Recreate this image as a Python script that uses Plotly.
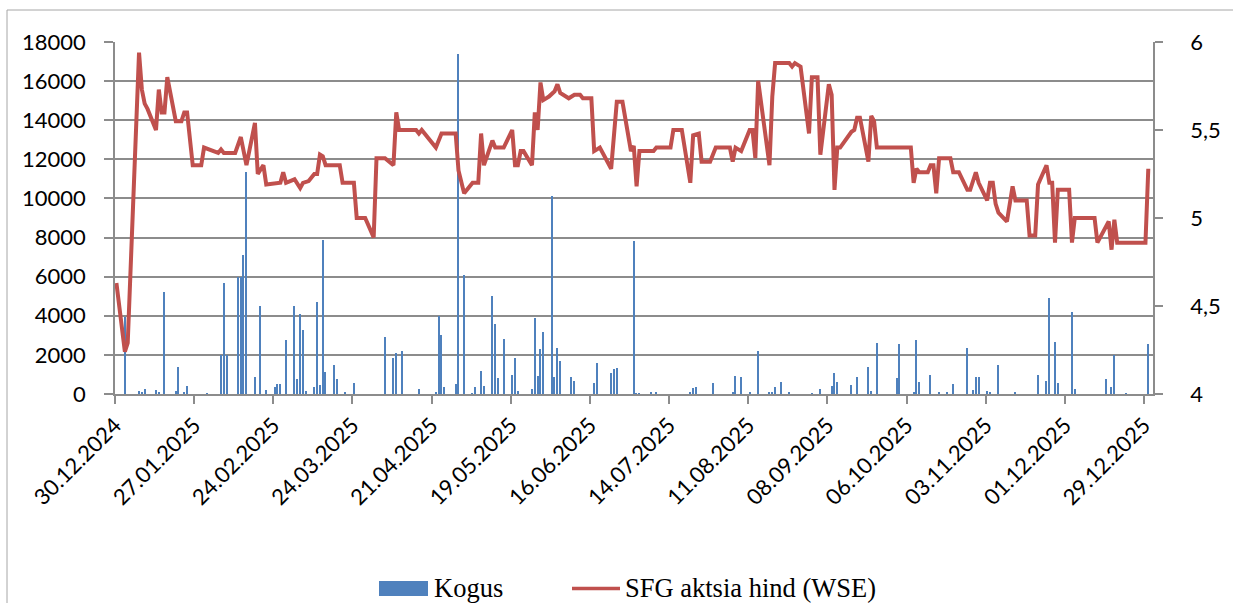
import plotly.graph_objects as go

DAY_MS = 86400000

# ---- Data ----
vol_dates = [
    "2025-01-02", "2025-01-07", "2025-01-08", "2025-01-09", "2025-01-13", "2025-01-14", "2025-01-16",
    "2025-01-20", "2025-01-21", "2025-01-23", "2025-01-24", "2025-01-31", "2025-02-05", "2025-02-06",
    "2025-02-07", "2025-02-11", "2025-02-12", "2025-02-13", "2025-02-14", "2025-02-17", "2025-02-19",
    "2025-02-21", "2025-02-24", "2025-02-25", "2025-02-26", "2025-02-28", "2025-03-03", "2025-03-04",
    "2025-03-05", "2025-03-06", "2025-03-07", "2025-03-10", "2025-03-11", "2025-03-12", "2025-03-13",
    "2025-03-14", "2025-03-17", "2025-03-18", "2025-03-21", "2025-03-24", "2025-04-04", "2025-04-07",
    "2025-04-08", "2025-04-10", "2025-04-16", "2025-04-22", "2025-04-23", "2025-04-24", "2025-04-25",
    "2025-04-29", "2025-04-30", "2025-05-02", "2025-05-05", "2025-05-06", "2025-05-08", "2025-05-09",
    "2025-05-12", "2025-05-13", "2025-05-14", "2025-05-16", "2025-05-19", "2025-05-20", "2025-05-21",
    "2025-05-26", "2025-05-27", "2025-05-28", "2025-05-29", "2025-05-30", "2025-06-02", "2025-06-03",
    "2025-06-04", "2025-06-05", "2025-06-09", "2025-06-10", "2025-06-17", "2025-06-18", "2025-06-23",
    "2025-06-24", "2025-06-25", "2025-07-01", "2025-07-02", "2025-07-03", "2025-07-07", "2025-07-09",
    "2025-07-21", "2025-07-22", "2025-07-23", "2025-07-29", "2025-08-05", "2025-08-06", "2025-08-08",
    "2025-08-11", "2025-08-14", "2025-08-18", "2025-08-19", "2025-08-20", "2025-08-22", "2025-08-25",
    "2025-09-02", "2025-09-05", "2025-09-09", "2025-09-10", "2025-09-11", "2025-09-16", "2025-09-18",
    "2025-09-22", "2025-09-23", "2025-09-25", "2025-10-02", "2025-10-03", "2025-10-08", "2025-10-09",
    "2025-10-10", "2025-10-14", "2025-10-17", "2025-10-20", "2025-10-22", "2025-10-27", "2025-10-29",
    "2025-10-30", "2025-10-31", "2025-11-03", "2025-11-04", "2025-11-07", "2025-11-13", "2025-11-21",
    "2025-11-24", "2025-11-25", "2025-11-27", "2025-11-28", "2025-12-03", "2025-12-04", "2025-12-15",
    "2025-12-17", "2025-12-18", "2025-12-22", "2025-12-30",
]
vol_values = [
    3920, 150, 100, 250, 200, 80, 5200,
    150, 1400, 100, 400, 50, 2000, 5660,
    2000, 5970, 5970, 7110, 11370, 850, 4500,
    200, 340, 510, 510, 2760, 4500, 750,
    4090, 3270, 150, 340, 4720, 460, 7880,
    1140, 1480, 770, 100, 550, 2930, 1820,
    2080, 2200, 250, 100, 3990, 3020, 340,
    510, 17390, 6090, 50, 340, 1190, 400,
    5030, 3560, 800, 2800, 970, 1860, 150,
    250, 3870, 940, 2280, 3150, 10130, 850,
    2370, 1690, 850, 680, 550, 1570, 1060,
    1260, 1350, 7840, 40, 40, 60, 60,
    100, 300, 340, 550, 60, 940, 890,
    60, 2200, 60, 60, 340, 600, 100,
    50, 250, 400, 1060, 630, 460, 850,
    1360, 150, 2590, 830, 2560, 100, 2760,
    630, 970, 100, 80, 510, 2340, 200,
    850, 850, 150, 100, 1480, 100, 970,
    660, 4930, 2680, 550, 4180, 250, 770,
    340, 1990, 40, 2560,
]

price_dates = [
    "2024-12-30", "2025-01-02", "2025-01-03", "2025-01-07", "2025-01-08", "2025-01-09", "2025-01-10",
    "2025-01-13", "2025-01-14", "2025-01-15", "2025-01-16", "2025-01-17", "2025-01-20", "2025-01-22",
    "2025-01-23", "2025-01-24", "2025-01-26", "2025-01-29", "2025-01-30", "2025-02-04", "2025-02-05",
    "2025-02-06", "2025-02-10", "2025-02-12", "2025-02-14", "2025-02-17", "2025-02-18", "2025-02-20",
    "2025-02-21", "2025-02-26", "2025-02-27", "2025-02-28", "2025-03-03", "2025-03-05", "2025-03-06",
    "2025-03-08", "2025-03-10", "2025-03-11", "2025-03-12", "2025-03-13", "2025-03-14", "2025-03-19",
    "2025-03-20", "2025-03-24", "2025-03-25", "2025-03-28", "2025-03-31", "2025-04-01", "2025-04-04",
    "2025-04-07", "2025-04-08", "2025-04-09", "2025-04-15", "2025-04-16", "2025-04-17", "2025-04-22",
    "2025-04-24", "2025-04-29", "2025-04-30", "2025-05-02", "2025-05-05", "2025-05-07", "2025-05-08",
    "2025-05-09", "2025-05-12", "2025-05-13", "2025-05-16", "2025-05-19", "2025-05-20", "2025-05-21",
    "2025-05-22", "2025-05-23", "2025-05-26", "2025-05-27", "2025-05-28", "2025-05-29", "2025-05-30",
    "2025-06-01", "2025-06-03", "2025-06-04", "2025-06-05", "2025-06-08", "2025-06-10", "2025-06-12",
    "2025-06-13", "2025-06-16", "2025-06-17", "2025-06-19", "2025-06-23", "2025-06-25", "2025-06-27",
    "2025-06-30", "2025-07-01", "2025-07-02", "2025-07-03", "2025-07-08", "2025-07-09", "2025-07-14",
    "2025-07-15", "2025-07-18", "2025-07-21", "2025-07-22", "2025-07-24", "2025-07-25", "2025-07-28",
    "2025-07-30", "2025-08-04", "2025-08-05", "2025-08-06", "2025-08-08", "2025-08-11", "2025-08-12",
    "2025-08-13", "2025-08-14", "2025-08-18", "2025-08-19", "2025-08-20", "2025-08-25", "2025-08-26",
    "2025-08-27", "2025-08-28", "2025-08-29", "2025-09-01", "2025-09-02", "2025-09-04", "2025-09-05",
    "2025-09-08", "2025-09-09", "2025-09-10", "2025-09-11", "2025-09-12", "2025-09-16", "2025-09-17",
    "2025-09-18", "2025-09-19", "2025-09-22", "2025-09-23", "2025-09-24", "2025-09-25", "2025-10-07",
    "2025-10-08", "2025-10-09", "2025-10-10", "2025-10-13", "2025-10-14", "2025-10-15", "2025-10-16",
    "2025-10-17", "2025-10-21", "2025-10-22", "2025-10-24", "2025-10-27", "2025-10-28", "2025-10-30",
    "2025-10-31", "2025-11-03", "2025-11-04", "2025-11-05", "2025-11-06", "2025-11-07", "2025-11-10",
    "2025-11-12", "2025-11-13", "2025-11-17", "2025-11-18", "2025-11-20", "2025-11-21", "2025-11-24",
    "2025-11-25", "2025-11-26", "2025-11-27", "2025-11-28", "2025-12-02", "2025-12-03", "2025-12-04",
    "2025-12-11", "2025-12-12", "2025-12-16", "2025-12-17", "2025-12-18", "2025-12-19", "2025-12-29",
    "2025-12-30",
]
price_values = [
    4.63, 4.24, 4.29, 5.94, 5.73, 5.65, 5.62,
    5.50, 5.73, 5.60, 5.60, 5.80, 5.55, 5.55,
    5.60, 5.60, 5.30, 5.30, 5.40, 5.37, 5.39,
    5.37, 5.37, 5.46, 5.30, 5.54, 5.25, 5.30,
    5.19, 5.20, 5.26, 5.20, 5.22, 5.17, 5.20,
    5.21, 5.25, 5.25, 5.36, 5.35, 5.30, 5.30,
    5.20, 5.20, 5.00, 5.00, 4.89, 5.34, 5.34,
    5.30, 5.60, 5.50, 5.50, 5.48, 5.50, 5.40,
    5.48, 5.48, 5.27, 5.14, 5.20, 5.20, 5.48,
    5.30, 5.44, 5.40, 5.40, 5.50, 5.30, 5.30,
    5.38, 5.38, 5.30, 5.60, 5.50, 5.77, 5.67,
    5.69, 5.72, 5.76, 5.71, 5.68, 5.70, 5.70,
    5.68, 5.68, 5.38, 5.40, 5.28, 5.66, 5.66,
    5.38, 5.41, 5.18, 5.38, 5.38, 5.40, 5.40,
    5.50, 5.50, 5.20, 5.47, 5.48, 5.32, 5.32,
    5.40, 5.40, 5.32, 5.40, 5.38, 5.50, 5.50,
    5.34, 5.78, 5.30, 5.69, 5.88, 5.88, 5.86,
    5.88, 5.87, 5.86, 5.48, 5.80, 5.80, 5.36,
    5.76, 5.70, 5.16, 5.40, 5.40, 5.49, 5.50,
    5.57, 5.57, 5.32, 5.58, 5.55, 5.40, 5.40,
    5.20, 5.28, 5.26, 5.26, 5.30, 5.30, 5.14,
    5.34, 5.34, 5.26, 5.26, 5.16, 5.16, 5.26,
    5.20, 5.10, 5.20, 5.20, 5.08, 5.03, 4.98,
    5.18, 5.10, 5.10, 4.90, 4.90, 5.19, 5.30,
    5.20, 5.20, 4.86, 5.16, 5.16, 4.86, 5.00,
    5.00, 4.86, 4.98, 4.82, 4.99, 4.86, 4.86,
    5.28,
]

left_ticks = [0, 2000, 4000, 6000, 8000, 10000, 12000, 14000, 16000, 18000]
right_tickvals = [4, 4.5, 5, 5.5, 6]
right_ticktext = ["4", "4,5", "5", "5,5", "6"]
series_names = ["Kogus", "SFG aktsia hind (WSE)"]

# ---- Styling ----
BLUE = "#4F81BD"
RED = "#C0504D"
GRID = "#8c8c8c"
AXIS = "#8c8c8c"
TICK_FONT = dict(family="Lato, Open Sans, sans-serif", size=22, color="#000000")
LEG_FONT = dict(family="Liberation Serif, Times New Roman, serif", size=26.5, color="#000000")

W, H = 1233, 603
L, R, T, B = 115, 80, 42, 209
PW, PH = W - L - R, H - T - B


def px(x):
    return (x - L) / PW


def py(y):
    return (H - B - y) / PH


fig = go.Figure()
fig.add_trace(go.Bar(
    x=vol_dates, y=vol_values, name=series_names[0],
    marker=dict(color=BLUE, line=dict(width=0)),
    width=0.45 * DAY_MS, xperiod=DAY_MS, xperiodalignment="middle",
    yaxis="y", showlegend=False,
))
fig.add_trace(go.Scatter(
    x=price_dates, y=price_values, name=series_names[1], mode="lines",
    line=dict(color=RED, width=4),
    xperiod=DAY_MS, xperiodalignment="middle",
    yaxis="y2", showlegend=False,
))

fig.update_layout(
    width=W, height=H,
    margin=dict(l=L, r=R, t=T, b=B, pad=0),
    paper_bgcolor="white", plot_bgcolor="white",
    bargap=0,
    xaxis=dict(
        type="date", range=["2024-12-30", "2026-01-01 04:00"],
        tick0="2024-12-30", dtick=28 * DAY_MS, tickformat="%d.%m.%Y",
        tickangle=-45, tickfont=TICK_FONT,
        ticks="outside", ticklen=8, tickcolor=AXIS, tickwidth=1.5,
        showline=True, linecolor=AXIS, linewidth=1.5,
        showgrid=False, zeroline=False,
    ),
    yaxis=dict(
        range=[0, 18000], tickvals=left_ticks, tickformat="d",
        tickfont=TICK_FONT,
        ticks="outside", ticklen=9, tickcolor=AXIS, tickwidth=1.5,
        ticklabelstandoff=14,
        showline=True, linecolor=AXIS, linewidth=1.5,
        showgrid=True, gridcolor=GRID, gridwidth=1.5, zeroline=False,
    ),
    yaxis2=dict(
        overlaying="y", side="right", range=[4, 6],
        tickvals=right_tickvals, ticktext=right_ticktext,
        tickfont=TICK_FONT,
        ticks="outside", ticklen=8, tickcolor=AXIS, tickwidth=1.5,
        ticklabelstandoff=23,
        showline=True, linecolor=AXIS, linewidth=1.5,
        showgrid=False, zeroline=False,
    ),
    shapes=[
        dict(type="rect", xref="paper", yref="paper",
             x0=px(7), x1=px(1240), y0=py(612), y1=py(10),
             line=dict(color="#a6a6a6", width=1), layer="below"),
        dict(type="rect", xref="paper", yref="paper",
             x0=px(379), x1=px(428), y0=py(596), y1=py(581),
             fillcolor=BLUE, line=dict(width=0)),
        dict(type="line", xref="paper", yref="paper",
             x0=px(572), x1=px(620), y0=py(588.5), y1=py(588.5),
             line=dict(color=RED, width=3.5)),
    ],
    annotations=[
        dict(text=series_names[0], xref="paper", yref="paper",
             x=px(432), y=py(588), xanchor="left", yanchor="middle",
             showarrow=False, font=LEG_FONT),
        dict(text=series_names[1], xref="paper", yref="paper",
             x=px(623), y=py(588), xanchor="left", yanchor="middle",
             showarrow=False, font=LEG_FONT),
    ],
)

fig.write_html(
    "out.html",
    config={"displayModeBar": False},
    post_script="document.body.style.margin='0';document.body.style.overflow='hidden';",
)
